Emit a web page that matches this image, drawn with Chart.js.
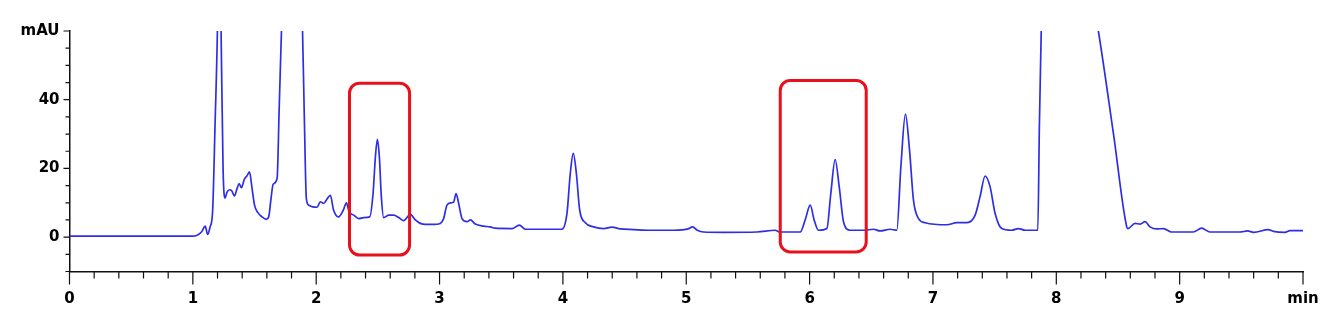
<!DOCTYPE html>
<html>
<head>
<meta charset="utf-8">
<script src="https://cdn.jsdelivr.net/npm/chart.js@4/dist/chart.umd.min.js"></script>
<style>
  html, body { margin: 0; padding: 0; background: #fff; }
  #wrap { width: 1329px; height: 329px; }
</style>
</head>
<body>
<div id="wrap"><canvas id="chrom"></canvas></div>
<script>
// retention time (min) and absorbance (mAU)
const times = [
  0, 0.5, 1.0, 1.03, 1.07, 1.10, 1.12, 1.14, 1.16, 1.18, 1.20, 1.212, 1.228, 1.245, 1.26,
  1.278, 1.298, 1.315, 1.337, 1.359, 1.375, 1.394, 1.418, 1.44, 1.459, 1.48, 1.50, 1.526,
  1.561, 1.596, 1.615, 1.634, 1.651, 1.683, 1.70, 1.72, 1.80, 1.888, 1.905, 1.92, 1.94,
  1.972, 2.007, 2.034, 2.061, 2.088, 2.115, 2.14, 2.18, 2.22, 2.245, 2.267, 2.304, 2.345,
  2.385, 2.434, 2.461, 2.48, 2.496, 2.512, 2.528, 2.547, 2.588, 2.628, 2.669, 2.709, 2.763,
  2.804, 2.844, 2.885, 2.952, 3.006, 3.033, 3.06, 3.093, 3.114, 3.134, 3.155, 3.182, 3.223,
  3.25, 3.29, 3.357, 3.41, 3.45, 3.587, 3.647, 3.695, 3.817, 3.992, 4.033, 4.06, 4.084,
  4.109, 4.136, 4.182, 4.249, 4.33, 4.398, 4.465, 4.573, 4.708, 4.897, 4.965, 5.015, 5.051,
  5.09, 5.14, 5.302, 5.573, 5.721, 5.76, 5.924, 5.964, 6.005, 6.037, 6.072, 6.14, 6.172,
  6.207, 6.24, 6.275, 6.329, 6.437, 6.518, 6.572, 6.653, 6.707, 6.74, 6.777, 6.81, 6.842,
  6.883, 6.937, 7.113, 7.194, 7.275, 7.342, 7.382, 7.423, 7.463, 7.504, 7.558, 7.639,
  7.693, 7.747, 7.85, 7.863, 7.879, 7.95, 8.2, 8.30, 8.341, 8.463, 8.571, 8.58, 8.639,
  8.68, 8.72, 8.76, 8.814, 8.868, 8.935, 9.11, 9.178, 9.246, 9.489, 9.55, 9.6, 9.719,
  9.76, 9.854, 9.894, 10.0
];
const mAU = [
  0.3, 0.3, 0.3, 0.5, 1.5, 3.2, 0.8, 3.0, 7.4, 32.7, 62, 95, 62, 20, 11.4,
  13.2, 13.8, 13.5, 12.0, 14.2, 15.6, 14.4, 16.9, 17.9, 19.0, 14.2, 9.3, 7.2,
  5.9, 5.2, 5.9, 11.3, 15.4, 17.1, 37.5, 62, 150, 62, 32.7, 11.3, 9.3,
  8.8, 8.7, 10.3, 9.8, 11.1, 12.2, 8.0, 5.9, 7.9, 10.0, 7.4, 6.4, 5.4,
  5.7, 5.9, 12.7, 23.4, 28.5, 23.4, 11.8, 5.7, 6.4, 6.4, 5.7, 4.8, 6.6,
  5.0, 4.0, 3.7, 3.7, 4.0, 5.4, 9.3, 10.0, 10.2, 12.7, 9.8, 5.4, 4.5,
  5.0, 3.8, 3.2, 3.0, 2.6, 2.5, 3.5, 2.3, 2.3, 2.3, 6.9, 18.6, 24.4,
  18.6, 7.9, 4.2, 3.0, 2.5, 2.9, 2.4, 2.2, 2.0, 2.0, 2.1, 2.4, 3.0,
  2.0, 1.5, 1.4, 1.5, 2.0, 1.5, 1.5, 5.0, 9.3, 5.0, 2.0, 2.5, 12.7,
  22.6, 14.7, 4.5, 2.0, 2.0, 2.3, 1.8, 2.3, 2.0, 20.5, 35.8, 25.4, 10.8,
  5.4, 4.2, 3.6, 4.2, 4.2, 6.4, 11.8, 17.8, 14.7, 6.9, 2.5, 2.0,
  2.5, 2.0, 2.0, 32.7, 62, 200, 200, 70, 60, 30.2, 3.0, 2.5, 4.0,
  3.8, 4.5, 3.0, 2.4, 2.5, 1.5, 1.5, 2.6, 1.5, 1.5, 1.8, 1.4, 2.2,
  1.7, 1.4, 1.9, 1.9
];

const xTickValues = [0, 1, 2, 3, 4, 5, 6, 7, 8, 9, 10];
const xTickLabels = ['0', '1', '2', '3', '4', '5', '6', '7', '8', '9', 'min'];
const yTickValues = [0, 20, 40, 60];
const yTickLabels = ['0', '20', '40', 'mAU'];

// highlighted regions: [tStart, tEnd] and [yLow, yHigh]
const boxTimes = [[2.27, 2.757], [5.762, 6.459]];
const boxLevels = [[-5.2, 44.8], [-4.3, 45.6]];

const tickFont = { family: 'DejaVu Sans', size: 15, weight: 'bold' };

const minorTicks = {
  id: 'minorTicks',
  afterDraw(chart) {
    const { ctx, scales: { x, y } } = chart;
    ctx.save();
    ctx.strokeStyle = '#111';
    ctx.lineWidth = 1.2;
    ctx.beginPath();
    for (let i = 0; i <= 50; i++) {
      const px = x.getPixelForValue(i * 0.2);
      const len = i % 5 === 0 ? 13 : 7;
      ctx.moveTo(px, y.bottom);
      ctx.lineTo(px, y.bottom + len);
    }
    for (let v = -10; v <= 60; v += 5) {
      const py = y.getPixelForValue(v);
      const len = v % 20 === 0 ? 6 : 4;
      ctx.moveTo(x.left, py);
      ctx.lineTo(x.left - len, py);
    }
    ctx.stroke();
    ctx.restore();
  }
};

const highlightBoxes = {
  id: 'highlightBoxes',
  afterDatasetsDraw(chart) {
    const { ctx, scales: { x, y } } = chart;
    ctx.save();
    ctx.strokeStyle = '#e8101a';
    ctx.lineWidth = 3;
    boxTimes.forEach((bt, i) => {
      const x0 = x.getPixelForValue(bt[0]);
      const x1 = x.getPixelForValue(bt[1]);
      const y0 = y.getPixelForValue(boxLevels[i][1]);
      const y1 = y.getPixelForValue(boxLevels[i][0]);
      ctx.beginPath();
      ctx.roundRect(x0, y0, x1 - x0, y1 - y0, 10);
      ctx.stroke();
    });
    ctx.restore();
  }
};

new Chart(document.getElementById('chrom'), {
  type: 'line',
  data: {
    datasets: [{
      data: times.map((t, i) => ({ x: t, y: mAU[i] })),
      borderColor: '#2e2ee6',
      borderWidth: 1.7,
      pointRadius: 0,
      fill: false,
      cubicInterpolationMode: 'monotone'
    }]
  },
  options: {
    responsive: true,
    maintainAspectRatio: false,
    animation: false,
    layout: { padding: { top: 31, right: 26, left: 0, bottom: 0 } },
    plugins: { legend: { display: false }, tooltip: { enabled: false } },
    scales: {
      x: {
        type: 'linear',
        min: 0,
        max: 10,
        afterBuildTicks: (scale) => { scale.ticks = xTickValues.map(v => ({ value: v })); },
        afterFit: (scale) => {
          scale.height = 57.5;
          scale.paddingLeft = 0;
          scale.paddingRight = 0;
        },
        grid: { display: false, drawTicks: false },
        border: { display: true, color: '#111', width: 1.5 },
        ticks: {
          color: '#000',
          font: tickFont,
          padding: 19,
          maxRotation: 0,
          autoSkip: false,
          callback: (v) => xTickLabels[xTickValues.indexOf(v)]
        }
      },
      y: {
        min: -10,
        max: 60,
        afterBuildTicks: (scale) => { scale.ticks = yTickValues.map(v => ({ value: v })); },
        afterFit: (scale) => {
          scale.width = 69.5;
          scale.paddingTop = 0;
          scale.paddingBottom = 0;
        },
        grid: { display: false, drawTicks: false },
        border: { display: true, color: '#111', width: 1.5 },
        ticks: {
          color: '#000',
          font: tickFont,
          padding: 10,
          autoSkip: false,
          callback: (v) => yTickLabels[yTickValues.indexOf(v)]
        }
      }
    }
  },
  plugins: [minorTicks, highlightBoxes]
});
</script>
</body>
</html>
